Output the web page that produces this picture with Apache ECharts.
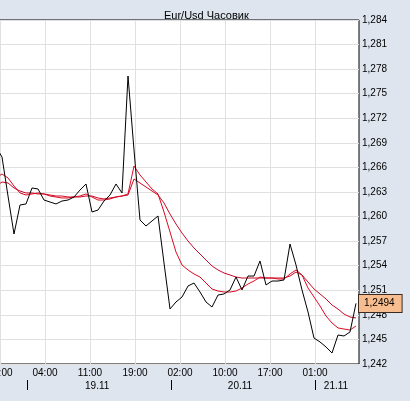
<!DOCTYPE html>
<html><head><meta charset="utf-8">
<script src="https://cdn.jsdelivr.net/npm/echarts@6/dist/echarts.min.js"></script>
<style>html,body{margin:0;padding:0;background:#dee5ee;}#c{width:410px;height:401px;}</style>
</head><body><div id="c"></div>
<script>
const chartTitle = 'Eur/Usd Часовик';
const firstBarHour = 19 + 50 / 60; // hours since 18.11 00:00, hourly bars
const closePrices = [1.26849, 1.26727, 1.26251, 1.25787, 1.26141, 1.26154, 1.26349, 1.26337, 1.26202, 1.26178,
  1.26154, 1.26190, 1.26202, 1.26239, 1.26324, 1.26398, 1.26056, 1.26080, 1.26190, 1.26263,
  1.26398, 1.26288, 1.27716, 1.26813, 1.25958, 1.25885, 1.25946, 1.26007, 1.25433, 1.24872,
  1.24957, 1.25018, 1.25152, 1.25189, 1.25079, 1.24957, 1.24896, 1.25042, 1.25055, 1.25104,
  1.25262, 1.25104, 1.25274, 1.25274, 1.25458, 1.25165, 1.25213, 1.25213, 1.25226, 1.25665,
  1.25409, 1.25104, 1.24835, 1.24517, 1.24469, 1.24408, 1.24334, 1.24554, 1.24542, 1.24591,
  1.2494];
const maFast = [1.26471, 1.26520, 1.26471, 1.26373, 1.26288, 1.26263, 1.26276, 1.26288, 1.26276, 1.26251,
  1.26239, 1.26227, 1.26227, 1.26239, 1.26251, 1.26276, 1.26239, 1.26202, 1.26202, 1.26215,
  1.26239, 1.26251, 1.26276, 1.26617, 1.26508, 1.26422, 1.26337, 1.26276, 1.26056, 1.25812,
  1.25567, 1.25409, 1.25348, 1.25299, 1.25262, 1.25189, 1.25116, 1.25091, 1.25079, 1.25079,
  1.25091, 1.25128, 1.25177, 1.25213, 1.25262, 1.25250, 1.25250, 1.25238, 1.25238, 1.25299,
  1.25348, 1.25287, 1.25128, 1.25018, 1.24908, 1.24786, 1.24701, 1.24640, 1.24627, 1.24615,
  1.24664];
const maSlow = [1.26373, 1.26422, 1.26410, 1.26349, 1.26312, 1.26288, 1.26288, 1.26276, 1.26276, 1.26263,
  1.26251, 1.26251, 1.26239, 1.26239, 1.26239, 1.26251, 1.26251, 1.26227, 1.26215, 1.26227,
  1.26239, 1.26251, 1.26263, 1.26459, 1.26410, 1.26361, 1.26312, 1.26263, 1.26166, 1.26031,
  1.25909, 1.25799, 1.25702, 1.25616, 1.25543, 1.25470, 1.25397, 1.25348, 1.25311, 1.25287,
  1.25262, 1.25250, 1.25250, 1.25250, 1.25250, 1.25250, 1.25250, 1.25250, 1.25250, 1.25274,
  1.25323, 1.25287, 1.25201, 1.25116, 1.25055, 1.24994, 1.24920, 1.24871, 1.24810, 1.24774,
  1.24762];
const lastPrice = 1.2494;
const hourTicks = [20.5, 28, 35.5, 43, 50.5, 58, 65.5, 73];
const dayTicks = [25, 49, 73];
const dayLabelHours = [36.7, 60.5, 76.5];
const dayLabels = ['19.11', '20.11', '21.11'];
const yMin = 1.242, yMax = 1.284, yStep = 0.003;
const xMin = 20.5 - 2 / 6, xMax = xMin + 361 / 6;

const FONT = 'Liberation Sans';
const pad2 = n => (n < 10 ? '0' : '') + n;
const toPairs = arr => arr.map((v, i) => [firstBarHour + i, v]);

const chart = echarts.init(document.getElementById('c'));
chart.setOption({
  animation: false,
  backgroundColor: '#dee5ee',
  title: {
    text: chartTitle, left: 159, top: 5,
    textStyle: { fontSize: 11, fontWeight: 'normal', color: '#000', fontFamily: FONT }
  },
  grid: {
    left: -2, right: 51, top: 20, bottom: 37,
    containLabel: false, outerBoundsMode: 'none',
    show: true, backgroundColor: '#fff', borderColor: '#000', borderWidth: 1
  },
  xAxis: [{
    type: 'value', min: xMin, max: xMax, position: 'bottom',
    axisLine: { show: false },
    axisTick: { show: false, customValues: hourTicks },
    splitLine: { show: true, lineStyle: { color: '#e0e0e0', width: 1 } },
    axisLabel: {
      customValues: hourTicks, margin: 4, fontSize: 10, color: '#000', fontFamily: FONT,
      showMinLabel: true, showMaxLabel: true, hideOverlap: false,
      formatter: v => pad2(Math.floor(v + 1e-6) % 24) + ':00'
    }
  }, {
    type: 'value', min: xMin, max: xMax, position: 'bottom', offset: 16,
    axisLine: { show: false },
    axisTick: { show: true, customValues: dayTicks, length: 10, lineStyle: { color: '#000', width: 1 } },
    splitLine: { show: false },
    axisLabel: {
      customValues: dayLabelHours, margin: 1, fontSize: 10, color: '#000', fontFamily: FONT,
      showMinLabel: true, showMaxLabel: true,
      formatter: v => {
        let best = 0;
        dayLabelHours.forEach((h, i) => { if (Math.abs(h - v) < Math.abs(dayLabelHours[best] - v)) best = i; });
        return dayLabels[best];
      }
    }
  }],
  yAxis: [{
    type: 'value', position: 'right', min: yMin, max: yMax, interval: yStep,
    axisLine: { show: false }, axisTick: { show: false },
    splitLine: { show: true, lineStyle: { color: '#e0e0e0', width: 1 } },
    axisLabel: {
      margin: 3, fontSize: 10, color: '#000', fontFamily: FONT,
      showMinLabel: true, showMaxLabel: true,
      formatter: v => v.toFixed(3).replace('.', ',')
    }
  }, {
    type: 'value', position: 'right', min: yMin, max: yMax, z: 10,
    axisLine: { show: false }, axisTick: { show: false }, splitLine: { show: false },
    axisLabel: {
      customValues: [lastPrice], margin: 0, fontSize: 10, color: '#000', fontFamily: FONT,
      backgroundColor: '#f8bd8e', borderColor: '#3a2a20', borderWidth: 1,
      padding: [4, 7, 3, 5],
      formatter: v => v.toFixed(4).replace('.', ',')
    }
  }],
  series: [{
    type: 'line', data: toPairs(maSlow), showSymbol: false, clip: true,
    lineStyle: { color: '#c80a28', width: 1 }, z: 2
  }, {
    type: 'line', data: toPairs(maFast), showSymbol: false, clip: true,
    lineStyle: { color: '#dc0a20', width: 1 }, z: 3
  }, {
    type: 'line', data: toPairs(closePrices), showSymbol: false, clip: true,
    lineStyle: { color: '#000', width: 1 }, z: 4
  }]
});
</script></body></html>
